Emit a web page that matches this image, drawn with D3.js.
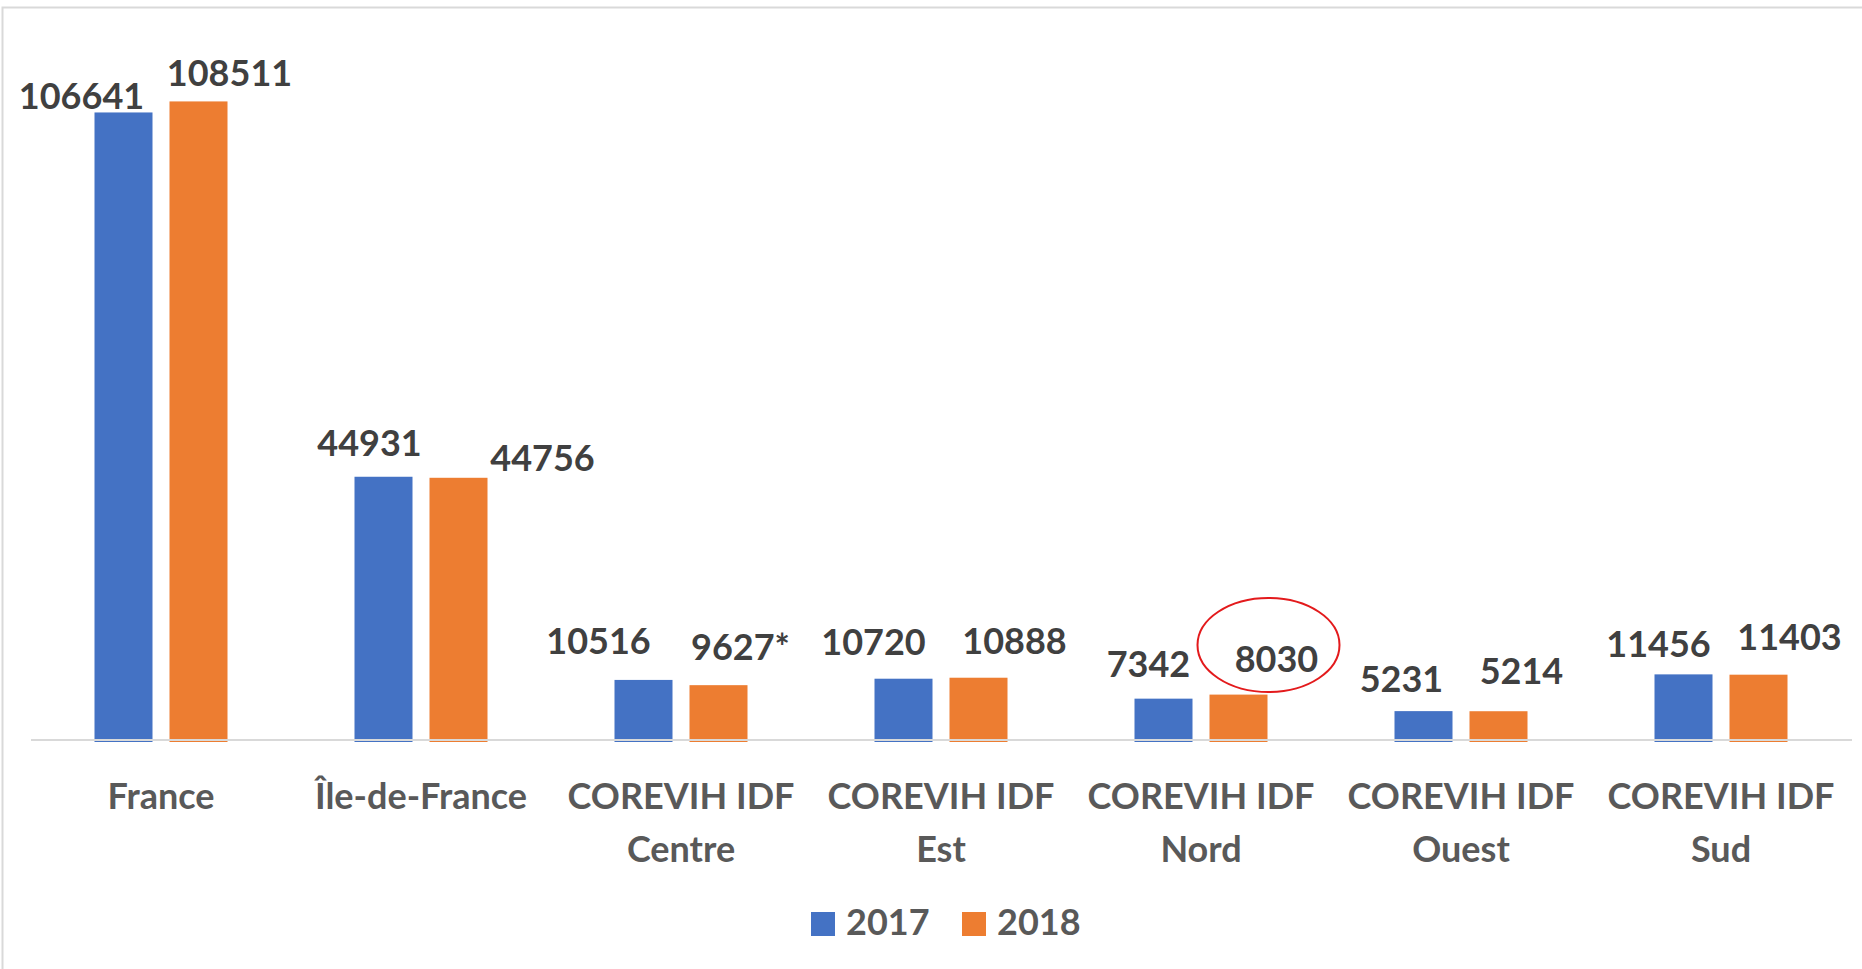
<!DOCTYPE html>
<html><head><meta charset="utf-8">
<script src="https://cdn.jsdelivr.net/npm/d3@7"></script>
<style>
html,body{margin:0;padding:0;background:#fff;overflow:hidden}
svg{display:block;font-family:Lato,"Open Sans",sans-serif}
</style></head>
<body>
<svg id="chart" width="1862" height="969"></svg>
<script>
const categories = [["France"],["Île-de-France"],["COREVIH IDF","Centre"],["COREVIH IDF","Est"],["COREVIH IDF","Nord"],["COREVIH IDF","Ouest"],["COREVIH IDF","Sud"]];
const seriesNames = ["2017","2018"];
const values2017 = [106641,44931,10516,10720,7342,5231,11456];
const values2018 = [108511,44756,9627,10888,8030,5214,11403];
const labels2018 = ["108511","44756","9627*","10888","8030","5214","11403"];
const colors = ["#4472c4","#ed7d31"];
// label nudges (layout only): [dx, dy] for each label
const nudge2017 = [[-42,-3],[-14,-21],[-45,-26],[-30,-24],[-15,-22],[-22,-19],[-25,-17]];
const nudge2018 = [[31,-15],[84,-7],[22,-25],[36,-24],[38,-23],[23,-27],[31,-25]];

const svg = d3.select("#chart");

// chart border
svg.append("rect").attr("x",2.5).attr("y",7.5).attr("width",1900).attr("height",1000)
  .attr("fill","none").attr("stroke","#d9d9d9").attr("stroke-width",2);

const x0 = d3.scaleBand().domain(d3.range(categories.length)).range([31,1851]).paddingInner(0).paddingOuter(0);
const y = d3.scaleLinear().domain([0,120000]).range([742,33.6]);
const barW = 58, gap = 17;

const series = [values2017, values2018];
const nudges = [nudge2017, nudge2018];
const texts = [values2017.map(String), labels2018];

series.forEach((vals, s) => {
  const g = svg.append("g");
  g.selectAll("rect").data(vals).join("rect")
    .attr("x",(d,i)=> x0(i) + x0.bandwidth()/2 + (s===0 ? -(gap/2+barW) : gap/2))
    .attr("y",d=>y(d))
    .attr("width",barW)
    .attr("height",d=>y(0)-y(d))
    .attr("fill",colors[s]);
  g.selectAll("text").data(vals).join("text")
    .attr("x",(d,i)=> x0(i) + x0.bandwidth()/2 + (s===0 ? -(gap/2+barW/2) : gap/2+barW/2) + nudges[s][i][0])
    .attr("y",(d,i)=> y(d) + nudges[s][i][1])
    .attr("text-anchor","middle")
    .attr("font-size",36).attr("font-weight",700).attr("fill","#404040")
    .text((d,i)=>texts[s][i]);
});

// axis line
svg.append("line").attr("x1",31).attr("x2",1852).attr("y1",740).attr("y2",740)
  .attr("stroke","#d9d9d9").attr("stroke-width",2);

// category labels
const cl = svg.append("g");
categories.forEach((lines,i)=>{
  const t = cl.append("text").attr("text-anchor","middle")
    .attr("font-size",36).attr("font-weight",700).attr("fill","#595959");
  lines.forEach((ln,k)=>{
    t.append("tspan").attr("x",x0(i)+x0.bandwidth()/2).attr("y",809+k*53).text(ln);
  });
});

// highlight ellipse around 8030
svg.append("ellipse").attr("cx",x0(4)+x0.bandwidth()/2+gap/2+barW/2+30).attr("cy",645)
  .attr("rx",71).attr("ry",47).attr("fill","none").attr("stroke","#e31a1c").attr("stroke-width",2);

// legend
const lg = svg.append("g");
const legX = [811, 962];
seriesNames.forEach((n,s)=>{
  lg.append("rect").attr("x",legX[s]).attr("y",912).attr("width",24).attr("height",24).attr("fill",colors[s]);
  lg.append("text").attr("x",legX[s]+35).attr("y",935).attr("font-size",36).attr("font-weight",700)
    .attr("fill","#595959").text(n);
});
</script>
</body></html>
